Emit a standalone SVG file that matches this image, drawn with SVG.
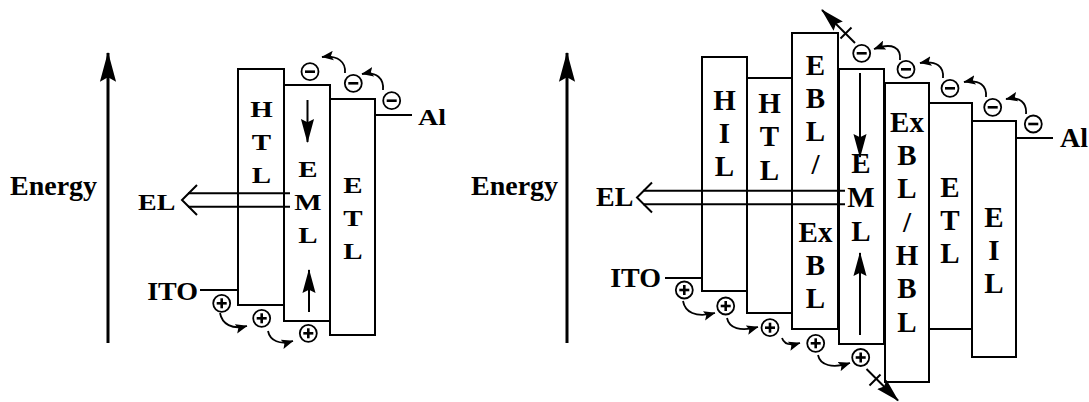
<svg xmlns="http://www.w3.org/2000/svg" width="1089" height="402" viewBox="0 0 1089 402">
<style>
text{font-family:"Liberation Serif","Times New Roman",serif;font-weight:bold;fill:#000}
.lb{font-size:28px}
.bx{font-size:29px;text-anchor:middle}
.box{fill:#fff;stroke:#000;stroke-width:2}
.ln{fill:none;stroke:#000;stroke-width:2}
.ax{fill:none;stroke:#000;stroke-width:3}
.arc{fill:none;stroke:#000;stroke-width:1.8}
.ci{fill:#fff;stroke:#000;stroke-width:1.8}
.sg{stroke:#000;stroke-width:2.6}
</style>
<defs>
<marker id="big" markerUnits="userSpaceOnUse" markerWidth="30" markerHeight="20" viewBox="0 0 26 14" refX="25" refY="7" orient="auto">
<path d="M0,0 L26,7 L0,14 L4,7 z" fill="#000"/>
</marker>
<marker id="mid" markerUnits="userSpaceOnUse" markerWidth="24" markerHeight="14" viewBox="0 0 22 12" refX="21" refY="6" orient="auto">
<path d="M0,0 L22,6 L0,12 L3,6 z" fill="#000"/>
</marker>
<marker id="sm" markerUnits="userSpaceOnUse" markerWidth="12" markerHeight="10" viewBox="0 0 10 8" refX="9.5" refY="4" orient="auto">
<path d="M0,0 L10,4 L0,8 L2,4 z" fill="#000"/>
</marker>
<g id="minus"><circle class="ci" cx="0" cy="0" r="8.5"/><line class="sg" x1="-5" y1="0" x2="5" y2="0"/></g>
<g id="plus"><circle class="ci" cx="0" cy="0" r="8.5"/><line class="sg" x1="-5" y1="0" x2="5" y2="0"/><line class="sg" x1="0" y1="-5" x2="0" y2="5"/></g>
</defs>

<!-- LEFT DIAGRAM -->
<g id="left-energy">
<line class="ax" x1="108" y1="343" x2="108" y2="53" marker-end="url(#big)"/>
<text class="lb" x="10" y="195">Energy</text>
</g>
<g id="left-HTL">
<rect class="box" x="238" y="69" width="46" height="236"/>
<text class="bx" transform="translate(261.5,117) scale(1,0.83)">H</text>
<text class="bx" transform="translate(261.5,150) scale(1,0.83)">T</text>
<text class="bx" transform="translate(261.5,183) scale(1,0.83)">L</text>
</g>
<g id="left-EML">
<rect class="box" x="284" y="85" width="46" height="236"/>
<text class="bx" transform="translate(308,177) scale(1,0.83)">E</text>
<text class="bx" transform="translate(308,210) scale(1,0.83)">M</text>
<text class="bx" transform="translate(308,243) scale(1,0.83)">L</text>
</g>
<g id="left-ETL">
<rect class="box" x="330" y="99" width="45" height="236"/>
<text class="bx" transform="translate(353,193) scale(1,0.83)">E</text>
<text class="bx" transform="translate(353,226) scale(1,0.83)">T</text>
<text class="bx" transform="translate(353,259) scale(1,0.83)">L</text>
</g>
<g id="left-Al">
<line class="ln" x1="375" y1="115" x2="412" y2="115"/>
<text class="lb" transform="translate(418,125) scale(1,0.83)">Al</text>
</g>
<g id="left-ITO">
<line class="ln" x1="200" y1="290" x2="238" y2="290"/>
<text class="lb" text-anchor="end" transform="translate(198,300) scale(1,0.87)">ITO</text>
</g>
<g id="left-EL">
<text class="lb" transform="translate(138,210) scale(1,0.85)">EL</text>
</g>
<g id="left-carriers">
<use href="#minus" x="310" y="71.7"/>
<use href="#minus" x="353.3" y="83.3"/>
<use href="#minus" x="391.7" y="100.7"/>
<use href="#plus" x="221.7" y="303.3"/>
<use href="#plus" x="261.7" y="318.3"/>
<use href="#plus" x="308.3" y="333.3"/>
</g>

<!-- RIGHT DIAGRAM -->
<g id="right-energy">
<line class="ax" x1="567" y1="343" x2="567" y2="53" marker-end="url(#big)"/>
<text class="lb" x="471" y="195">Energy</text>
</g>
<g id="right-HIL">
<rect class="box" x="702" y="57" width="45" height="234"/>
<text class="bx" x="724.5" y="110">H</text>
<text class="bx" x="724.5" y="143">I</text>
<text class="bx" x="724.5" y="176">L</text>
</g>
<g id="right-HTL">
<rect class="box" x="747" y="78" width="45" height="235"/>
<text class="bx" x="769.5" y="113">H</text>
<text class="bx" x="769.5" y="146">T</text>
<text class="bx" x="769.5" y="180">L</text>
</g>
<g id="right-EBL">
<rect class="box" x="792" y="33" width="46" height="296"/>
<text class="bx" x="815.5" y="75">E</text>
<text class="bx" x="815.5" y="108">B</text>
<text class="bx" x="815.5" y="141">L</text>
<text class="bx" x="815.5" y="174">/</text>
<text class="bx" x="815.5" y="242">Ex</text>
<text class="bx" x="815.5" y="275">B</text>
<text class="bx" x="815.5" y="308">L</text>
</g>
<g id="right-EML">
<rect class="box" x="839" y="69" width="45" height="275"/>
<text class="bx" x="861" y="173">E</text>
<text class="bx" x="861" y="207">M</text>
<text class="bx" x="861" y="241">L</text>
</g>
<g id="right-ExBL">
<rect class="box" x="885" y="83" width="44" height="299"/>
<text class="bx" x="907" y="132">Ex</text>
<text class="bx" x="907" y="165">B</text>
<text class="bx" x="907" y="198">L</text>
<text class="bx" x="907" y="232">/</text>
<text class="bx" x="907" y="265">H</text>
<text class="bx" x="907" y="298">B</text>
<text class="bx" x="907" y="332">L</text>
</g>
<g id="right-ETL">
<rect class="box" x="929" y="103" width="43" height="226"/>
<text class="bx" x="950" y="197">E</text>
<text class="bx" x="950" y="230">T</text>
<text class="bx" x="950" y="263">L</text>
</g>
<g id="right-EIL">
<rect class="box" x="972" y="121" width="44" height="236"/>
<text class="bx" x="994" y="227">E</text>
<text class="bx" x="994" y="260">I</text>
<text class="bx" x="994" y="293">L</text>
</g>
<g id="right-Al">
<line class="ln" x1="1016" y1="138" x2="1053" y2="138"/>
<text class="lb" x="1060" y="147">Al</text>
</g>
<g id="right-ITO">
<line class="ln" x1="665" y1="278" x2="702" y2="278"/>
<text class="lb" text-anchor="end" x="661" y="287">ITO</text>
</g>
<g id="right-EL">
<text class="lb" x="596" y="206">EL</text>
</g>
<g id="right-carriers">
<use href="#minus" x="861.7" y="53.3"/>
<use href="#minus" x="906" y="69.3"/>
<use href="#minus" x="950" y="88.3"/>
<use href="#minus" x="992.7" y="107.3"/>
<use href="#minus" x="1033.3" y="124"/>
<use href="#plus" x="684.3" y="290"/>
<use href="#plus" x="725.7" y="306"/>
<use href="#plus" x="770" y="327.7"/>
<use href="#plus" x="815.7" y="343.3"/>
<use href="#plus" x="860.7" y="357.5"/>
</g>

<g id="connectors">
<!-- left EL -->
<line class="ln" x1="188" y1="193.3" x2="290" y2="193.3"/>
<line class="ln" x1="188" y1="206.7" x2="290" y2="206.7"/>
<polyline class="ln" points="197,185 182,200 197,215"/>
<!-- left EML arrows -->
<line class="ln" stroke-width="2.5" x1="307.5" y1="100" x2="307.5" y2="142" marker-end="url(#mid)"/>
<line class="ln" stroke-width="2.5" x1="309" y1="312" x2="309" y2="270" marker-end="url(#mid)"/>
<!-- left electron hops -->
<path class="arc" d="M383,90 C384,79 377,71 362,74" marker-end="url(#sm)"/>
<path class="arc" d="M345,73 C346,62 338,55 322,57" marker-end="url(#sm)"/>
<!-- left hole hops -->
<path class="arc" d="M220,313 C222,324 232,330 247,326" marker-end="url(#sm)"/>
<path class="arc" d="M268,331 C270,341 280,345 293,341" marker-end="url(#sm)"/>

<!-- right EL -->
<line class="ln" x1="643" y1="190.7" x2="845" y2="190.7"/>
<line class="ln" x1="643" y1="204.3" x2="845" y2="204.3"/>
<polyline class="ln" points="652,182.5 637,197.5 652,212.5"/>
<!-- right EML arrows -->
<line class="ln" stroke-width="2.5" x1="860" y1="73" x2="860" y2="157" marker-end="url(#mid)"/>
<line class="ln" stroke-width="2.5" x1="860" y1="335" x2="860" y2="253" marker-end="url(#mid)"/>
<!-- right electron hops -->
<path class="arc" d="M1026,114 C1027,103 1020,96 1006,99" marker-end="url(#sm)"/>
<path class="arc" d="M986,97 C987,86 980,79 964,82" marker-end="url(#sm)"/>
<path class="arc" d="M943,78 C944,67 937,60 920,63" marker-end="url(#sm)"/>
<path class="arc" d="M900,60 C901,48 893,42 874,49" marker-end="url(#sm)"/>
<!-- blocked electron escape -->
<line class="ln" x1="855" y1="43" x2="822" y2="10" marker-end="url(#mid)"/>
<line class="ln" x1="840.5" y1="38.5" x2="851.5" y2="27.5"/>
<!-- right hole hops -->
<path class="arc" d="M683,301 C685,312 695,318 715,313" marker-end="url(#sm)"/>
<path class="arc" d="M727,318 C729,328 740,332 758,327" marker-end="url(#sm)"/>
<path class="arc" d="M782,338 C784,344 790,346 800,343" marker-end="url(#sm)"/>
<path class="arc" d="M818,355 C820,365 832,369 850,363" marker-end="url(#sm)"/>
<!-- blocked hole escape -->
<line class="ln" x1="866.5" y1="369" x2="898" y2="400.5" marker-end="url(#mid)"/>
<line class="ln" x1="869.5" y1="385.5" x2="880.5" y2="374.5"/>
</g>
</svg>
